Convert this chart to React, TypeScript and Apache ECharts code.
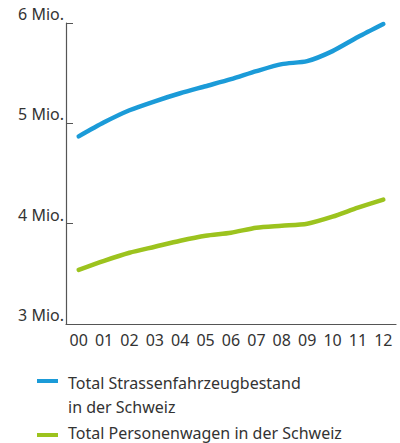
import React, { useEffect, useRef } from "react";
import * as echarts from "echarts";

const years = ["00", "01", "02", "03", "04", "05", "06", "07", "08", "09", "10", "11", "12"];
const totalVehicles = [4.87, 5.01, 5.13, 5.22, 5.3, 5.37, 5.44, 5.52, 5.59, 5.62, 5.72, 5.86, 5.99];
const passengerCars = [3.54, 3.63, 3.71, 3.77, 3.83, 3.88, 3.91, 3.96, 3.98, 4.0, 4.07, 4.16, 4.24];
const seriesNames = ["Total Strassenfahrzeugbestand\nin der Schweiz", "Total Personenwagen in der Schweiz"];
const colors = ["#1b9bd8", "#9cc31e"];

const FONT = "'Noto Sans', sans-serif";

export default function App() {
  const ref = useRef<HTMLDivElement>(null);
  useEffect(() => {
    const chart = echarts.init(ref.current!, null, { renderer: "svg" });
    chart.setOption({
      animation: false,
      backgroundColor: "#ffffff",
      textStyle: { fontFamily: FONT },
      grid: { left: 66, right: 4, top: 23, bottom: 119, containLabel: false },
      xAxis: {
        type: "category",
        data: years,
        boundaryGap: true,
        axisLine: { lineStyle: { color: "#555", width: 1.2 } },
        axisTick: { inside: true, length: 7, lineStyle: { color: "#555" } },
        axisLabel: { color: "#333", fontSize: 16, margin: 8, fontFamily: FONT },
      },
      yAxis: {
        type: "value",
        min: 3,
        max: 6,
        interval: 1,
        splitLine: { show: false },
        axisLine: { show: true, lineStyle: { color: "#555", width: 1.2 } },
        axisTick: { show: true, inside: true, length: 7, lineStyle: { color: "#555" } },
        axisLabel: {
          color: "#333",
          fontSize: 16,
          margin: 2,
          fontFamily: FONT,
          verticalAlign: "bottom",
          lineHeight: 18,
          formatter: (v: number) => v + " Mio.",
        },
      },
      series: [
        {
          name: seriesNames[0],
          type: "line",
          data: totalVehicles,
          smooth: 0.25,
          symbol: "none",
          lineStyle: { color: colors[0], width: 4.5, cap: "round" },
        },
        {
          name: seriesNames[1],
          type: "line",
          data: passengerCars,
          smooth: 0.25,
          symbol: "none",
          lineStyle: { color: colors[1], width: 4.5, cap: "round" },
        },
      ],
      graphic: [
        { type: "line", shape: { x1: 37, y1: 381, x2: 58, y2: 381 }, style: { stroke: colors[0], lineWidth: 4 } },
        {
          type: "text",
          x: 68,
          y: 371,
          style: { text: seriesNames[0], fill: "#333", font: "16px " + FONT, lineHeight: 24 },
        },
        { type: "line", shape: { x1: 37, y1: 435, x2: 58, y2: 435 }, style: { stroke: colors[1], lineWidth: 4 } },
        {
          type: "text",
          x: 68,
          y: 425,
          style: { text: seriesNames[1], fill: "#333", font: "16px " + FONT },
        },
      ],
    });
    return () => chart.dispose();
  }, []);
  return <div ref={ref} style={{ width: 400, height: 443, position: "fixed", left: 0, top: 0 }} />;
}
